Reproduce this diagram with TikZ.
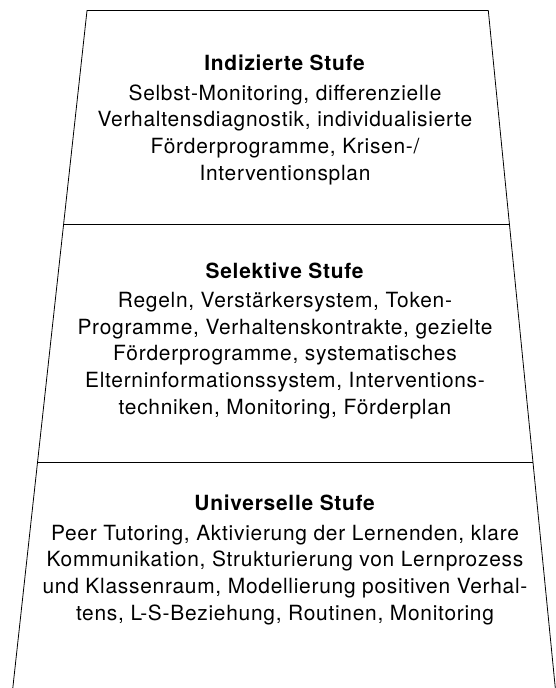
\documentclass[tikz,border=0pt]{standalone}
\usepackage{fontspec}
\setmainfont{TeX Gyre Heros}[LetterSpace=3.5]
\begin{document}
\begin{tikzpicture}[x=1bp,y=-1bp,line width=0.8bp]
%Define all styles here.
\tikzset{stufe/.style={anchor=base, align=center, inner sep=0pt, text=black,
  font=\fontsize{21}{26.7}\selectfont}}
\useasboundingbox (0,0) rectangle (556,688);

%Corners of the pyramid.
\coordinate (tl) at (87,10.6);
\coordinate (tr) at (488.3,10.6);
\coordinate (bl) at (12.8,688);
\coordinate (br) at (555.3,688);
\coordinate (d1l) at (63.6,224.7);
\coordinate (d1r) at (509.5,224.7);
\coordinate (d2l) at (37.5,462.4);
\coordinate (d2r) at (533.0,462.4);

\draw (bl) -- (tl) -- (tr) -- (br);
\draw (d1l) -- (d1r);
\draw (d2l) -- (d2r);

%Base of each node is its last line.
\node(indiziert) at (285,180) [stufe] {\textbf{Indizierte Stufe}\\[3pt]
  Selbst-Monitoring, differenzielle\\
  Verhaltensdiagnostik, individualisierte\\
  Förderprogramme, Krisen-/\\
  Interventionsplan};

\node(selektiv) at (285,414) [stufe] {\textbf{Selektive Stufe}\\[3pt]
  Regeln, Verstärkersystem, Token-\\
  Programme, Verhaltenskontrakte, gezielte\\
  Förderprogramme, systematisches\\
  Elterninformationssystem, Interventions-\\
  techniken, Monitoring, Förderplan};

\node(universell) at (285,620) [stufe] {\textbf{Universelle Stufe}\\[3pt]
  Peer Tutoring, Aktivierung der Lernenden, klare\\
  Kommunikation, Strukturierung von Lernprozess\\
  und Klassenraum, Modellierung positiven Verhal-\\
  tens, L-S-Beziehung, Routinen, Monitoring};
\end{tikzpicture}
\end{document}
